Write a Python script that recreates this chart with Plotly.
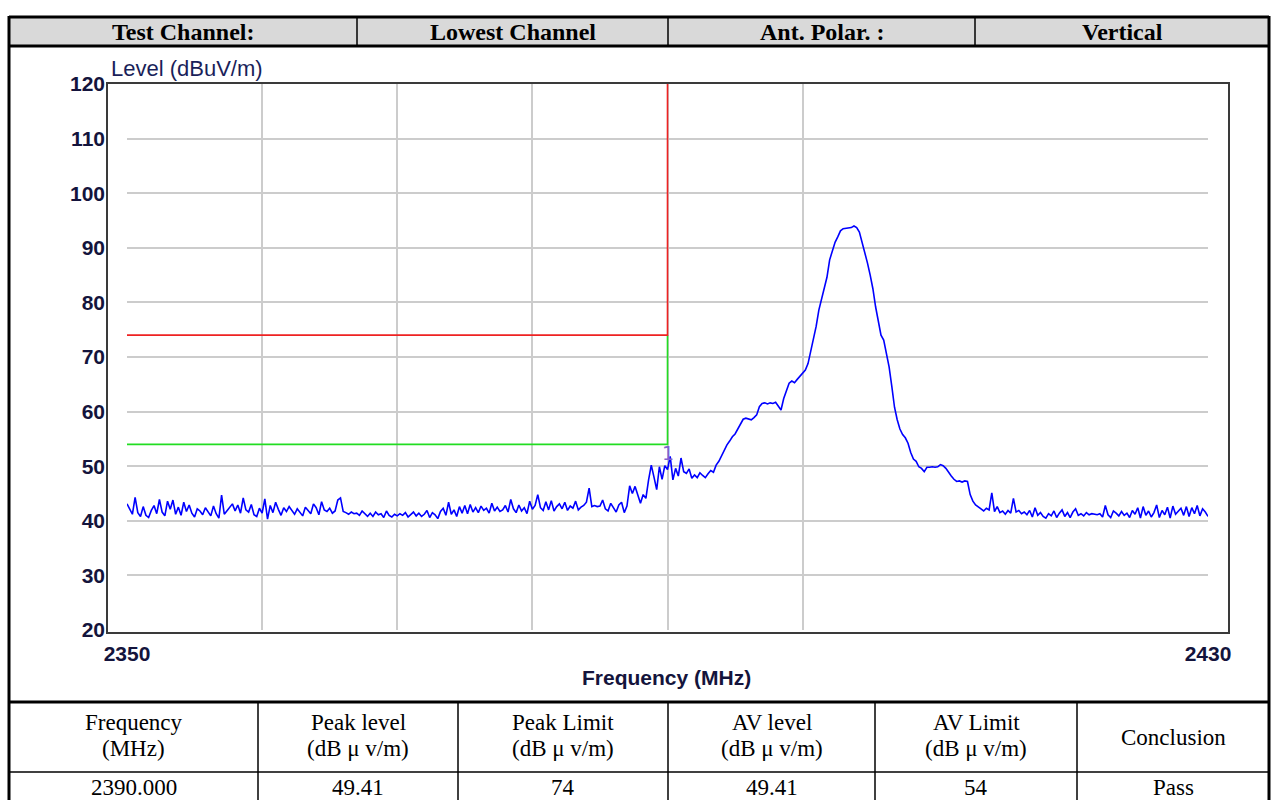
import plotly.graph_objects as go

W, H = 1272, 800

# ---------------- data ----------------
header_labels = ["Test Channel:", "Lowest Channel", "Ant. Polar. :", "Vertical"]
result_head_line1 = ["Frequency", "Peak level", "Peak Limit", "AV level", "AV Limit", "Conclusion"]
result_head_line2 = ["(MHz)", "(dB μ v/m)", "(dB μ v/m)", "(dB μ v/m)", "(dB μ v/m)", ""]
result_values = ["2390.000", "49.41", "74", "49.41", "54", "Pass"]

freq_start = 2350.0   # MHz
freq_step = 0.2       # MHz sweep step
level_values = [
    43.1, 42.0, 41.2, 44.3, 41.5, 40.8, 42.6, 41.0, 40.6, 41.9,
    42.8, 41.3, 43.9, 41.6, 40.9, 43.6, 42.1, 43.8, 41.2, 42.5,
    41.0, 43.4, 41.7, 42.9, 41.4, 40.7, 42.2, 41.8, 41.1, 42.4,
    41.6, 40.9, 42.7, 41.3, 40.5, 44.7, 41.2, 41.9, 42.6, 43.1,
    41.8, 42.9, 41.4, 44.2, 42.0, 41.6, 43.0, 41.1, 40.8, 42.3,
    41.4, 44.0, 40.3, 42.8, 41.5, 43.4, 42.1, 41.0, 42.4, 41.7,
    42.6, 41.9, 41.2, 42.2, 41.6, 40.9, 42.5, 41.8, 41.3, 43.1,
    42.4, 41.1, 43.5, 42.0, 41.7, 42.3, 41.4, 41.8, 43.8, 44.2,
    41.7, 41.5, 41.2, 41.6, 41.3, 41.4, 41.0, 41.8, 41.2, 40.8,
    41.4, 40.8, 41.6, 41.1, 41.3, 40.6, 41.8, 41.0, 40.7, 41.2,
    40.9, 41.3, 41.0, 41.5, 40.7, 41.2, 41.6, 40.9, 41.4, 40.8,
    41.2, 41.9, 40.6, 41.5, 41.1, 40.4, 41.7, 42.3, 41.0, 43.4,
    41.2, 42.0, 40.8, 42.6, 41.4, 42.8, 41.3, 43.0, 41.6, 42.4,
    41.5, 42.7, 41.9, 42.3, 41.4, 43.2, 41.8, 42.5, 41.7, 42.0,
    42.8, 41.6, 43.9, 42.2, 41.5, 42.9, 41.8, 42.4, 41.3, 43.6,
    42.1, 42.8, 44.8, 42.4, 41.9, 43.5, 42.0, 43.7, 41.8, 42.6,
    43.1, 42.2, 43.4, 41.9, 42.7, 42.3, 43.6, 42.0, 42.5, 42.8,
    43.4, 46.0, 42.6, 42.8, 42.6, 42.7, 43.8, 42.2, 41.8, 43.2,
    42.5, 41.6, 42.9, 43.4, 41.5, 42.7, 46.4, 45.0, 46.3, 44.6,
    43.2, 44.8, 44.1, 47.5, 50.2, 48.0, 45.7, 49.9, 47.6, 50.1,
    49.4, 51.8, 47.5, 49.6, 48.2, 51.5, 49.0, 48.7, 49.5, 47.8,
    48.4, 47.9, 48.8, 48.3, 47.9, 48.6, 49.2, 48.9, 50.2, 50.9,
    52.0, 53.0, 53.9, 54.6, 55.4, 55.9, 56.9, 57.9, 58.6, 58.8,
    58.7, 58.5, 58.9, 59.4, 60.9, 61.5, 61.6, 61.4, 61.6, 61.5,
    61.7, 61.0, 60.3, 62.4, 63.7, 65.2, 65.6, 65.3, 65.9, 66.5,
    67.0, 67.6, 68.8, 71.0, 73.5, 75.6, 78.6, 80.5, 82.4, 84.6,
    87.8, 89.6, 91.0, 92.0, 93.1, 93.5, 93.6, 93.6, 93.7, 94.0,
    93.7, 92.9, 91.0, 89.6, 87.2, 85.0, 82.5, 79.2, 76.5, 74.0,
    73.1, 70.5, 68.2, 64.6, 60.8, 58.5, 56.8, 55.8, 55.2, 54.2,
    52.5, 51.3, 50.9, 49.9, 49.6, 49.0, 49.8, 49.8, 49.9, 49.8,
    49.9, 50.3, 50.1, 49.6, 48.8, 48.2, 47.6, 47.2, 47.3, 47.1,
    47.3, 47.2, 44.8, 43.6, 42.9, 42.6, 42.2, 41.8, 42.3, 42.0,
    45.1, 41.7, 42.6, 41.5, 41.8, 41.2, 41.9, 41.4, 44.1, 41.6,
    41.9, 41.3, 41.6, 41.1, 41.9, 40.7, 42.4, 41.0, 41.5, 40.8,
    40.5, 41.3, 40.9, 41.8, 40.6, 41.4, 42.0, 40.8, 41.5, 40.6,
    41.6, 42.2, 41.0, 41.3, 40.9, 41.5, 41.1, 41.3, 41.2, 41.1,
    41.3, 40.7, 42.8, 41.1, 40.6, 41.8, 41.4, 40.9, 41.7, 41.0,
    41.4, 40.6, 41.9, 41.2, 42.4, 40.5, 42.6, 41.0, 41.8, 40.7,
    41.5, 42.9, 40.6, 41.9, 41.1, 42.5, 40.5, 42.7, 41.2, 41.8,
    42.3, 41.0, 42.6, 40.8, 42.4, 41.3, 42.8, 40.9, 42.2, 41.6,
    40.8,
]
freqs = [round(freq_start + i * freq_step, 1) for i in range(len(level_values))]

peak_limit = 74
av_limit = 54
band_edge = 2390
x_min, x_max = 2350, 2430
y_min, y_max = 20, 120
y_ticks = list(range(20, 121, 10))
x_grid = [2350, 2360, 2370, 2380, 2390, 2400, 2430]
x_grid_labels = ["2350", "", "", "", "", "", "2430"]
marker_text = "1"
marker_level = 52.4

# ---------------- style / layout helpers ----------------
SERIF = "Liberation Serif, Times New Roman, serif"
SANS = "Liberation Sans, Arial, sans-serif"
TXT = "#14143c"


def px(x):
    return x / W


def py(y):
    return 1 - y / H


shapes = []
annotations = []


def hline(y, x0, x1, w=1, color="black"):
    shapes.append(dict(type="line", xref="paper", yref="paper", x0=px(x0), x1=px(x1),
                       y0=py(y), y1=py(y), line=dict(color=color, width=w)))


def vline(x, y0, y1, w=1, color="black"):
    shapes.append(dict(type="line", xref="paper", yref="paper", x0=px(x), x1=px(x),
                       y0=py(y0), y1=py(y1), line=dict(color=color, width=w)))


def text(x, y, s, size, family, bold=False, color="black", xanchor="center"):
    annotations.append(dict(xref="paper", yref="paper", x=px(x), y=py(y), text=s,
                            showarrow=False, xanchor=xanchor, yanchor="middle",
                            font=dict(family=family, size=size, color=color,
                                      weight="bold" if bold else "normal")))


# header row
L, R = 9, 1269
shapes.append(dict(type="rect", xref="paper", yref="paper", x0=px(L), x1=px(R),
                   y0=py(46), y1=py(17), fillcolor="#d9d9d9", line=dict(width=0), layer="below"))
hline(17, L, R, 3)
hline(46, L, R, 3)
head_cols = [L, 357, 668, 975, R]
for xc in head_cols[1:-1]:
    vline(xc, 17, 46, 1.5)
for i, lab in enumerate(header_labels):
    text((head_cols[i] + head_cols[i + 1]) / 2, 31.5, lab, 24, SERIF, bold=True)

# outer borders
vline(L, 16, 800, 3)
vline(R, 16, 800, 3)

# result table
hline(702, L, R, 3)
hline(772, L, R, 1.5)
res_cols = [L, 258, 458, 668, 875, 1077, R]
for xc in res_cols[1:-1]:
    vline(xc, 702, 800, 1.5)
for i in range(6):
    cx = (res_cols[i] + res_cols[i + 1]) / 2
    if result_head_line2[i]:
        text(cx, 722, result_head_line1[i], 23, SERIF)
        text(cx, 748, result_head_line2[i], 23, SERIF)
    else:
        text(cx, 737, result_head_line1[i], 23, SERIF)
    text(cx, 787, result_values[i], 23, SERIF)

# chart frame
PL, PR, PT, PB = 127, 1208, 84, 630
shapes.append(dict(type="rect", xref="paper", yref="paper", x0=px(107), x1=px(1229),
                   y0=py(633), y1=py(83), line=dict(color="#3a3a3a", width=2)))

text(109, 69, "Level (dBuV/m)", 22, SANS, color="#1a1f5a", xanchor="left")
text(666, 677, "Frequency (MHz)", 21, SANS, bold=True, color=TXT)

# ---------------- figure ----------------
fig = go.Figure()
fig.add_trace(go.Scatter(x=[x_min, band_edge, band_edge], y=[av_limit, av_limit, peak_limit],
                         mode="lines", line=dict(color="#22dd22", width=1.6), hoverinfo="skip"))
fig.add_trace(go.Scatter(x=[x_min, band_edge, band_edge], y=[peak_limit, peak_limit, y_max],
                         mode="lines", line=dict(color="#ee2222", width=1.6), hoverinfo="skip"))
fig.add_trace(go.Scatter(x=freqs, y=level_values, mode="lines",
                         line=dict(color="#0000ff", width=1.6)))

annotations.append(dict(x=band_edge, y=marker_level, xref="x", yref="y", text=marker_text,
                        showarrow=False, xanchor="center", yanchor="middle",
                        font=dict(family="DejaVu Sans, sans-serif", size=19, color="#8060d0")))

fig.update_layout(
    width=W, height=H, autosize=False,
    margin=dict(l=0, r=0, t=0, b=0, pad=0, autoexpand=False),
    paper_bgcolor="white", plot_bgcolor="white",
    showlegend=False,
    shapes=shapes, annotations=annotations,
    xaxis=dict(domain=[px(PL), px(PR)], range=[x_min, x_max],
               tickvals=x_grid, ticktext=x_grid_labels, automargin=False,
               showgrid=True, gridcolor="#cccccc", gridwidth=2,
               zeroline=False, showline=False, ticks="",
               ticklabelstandoff=9,
               tickfont=dict(family=SANS, size=21, color=TXT, weight="bold")),
    yaxis=dict(domain=[py(PB), py(PT)], range=[y_min, y_max],
               tickvals=y_ticks, automargin=False,
               showgrid=True, gridcolor="#cccccc", gridwidth=2,
               zeroline=False, showline=False, ticks="",
               ticklabelstandoff=21,
               tickfont=dict(family=SANS, size=21, color=TXT, weight="bold")),
)

fig.write_html("out.html", config={"responsive": False})
